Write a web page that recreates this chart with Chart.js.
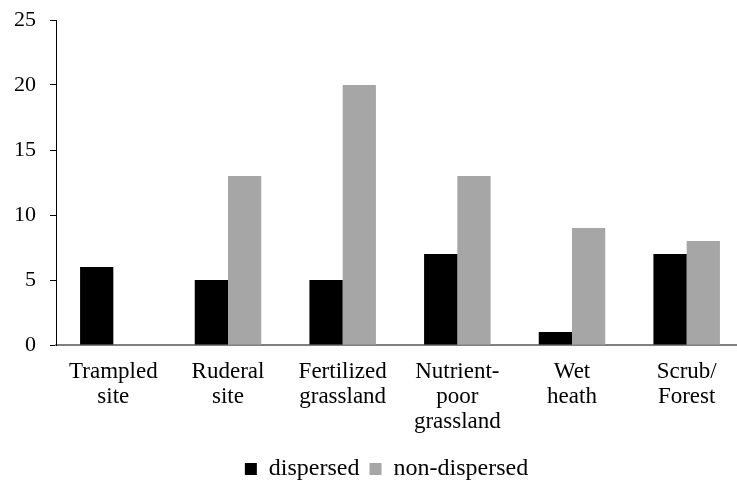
<!DOCTYPE html>
<html>
<head>
<meta charset="utf-8">
<script src="https://cdn.jsdelivr.net/npm/chart.js@4.4.1/dist/chart.umd.min.js"></script>
<style>
  html, body { margin: 0; padding: 0; background: #fff; overflow: hidden; }
  #wrap { width: 773px; height: 486px; position: relative; }
</style>
</head>
<body>
<div id="wrap"><canvas id="c"></canvas></div>
<script>
const categories = [
  ["Trampled", "site"],
  ["Ruderal", "site"],
  ["Fertilized", "grassland"],
  ["Nutrient-", "poor", "grassland"],
  ["Wet", "heath"],
  ["Scrub/", "Forest"]
];
const dispersed = [6, 5, 5, 7, 1, 7];
const nonDispersed = [0, 13, 20, 13, 9, 8];
const yTicks = [0, 5, 10, 15, 20, 25];

const FONT = "'Liberation Serif', 'Times New Roman', serif";
Chart.defaults.font.family = FONT;
Chart.defaults.color = '#000';

new Chart(document.getElementById('c'), {
  type: 'bar',
  data: {
    labels: categories,
    datasets: [
      { label: 'dispersed', data: dispersed, backgroundColor: '#000000', borderWidth: 0 },
      { label: 'non-dispersed', data: nonDispersed, backgroundColor: '#a6a6a6', borderWidth: 0 }
    ]
  },
  options: {
    responsive: true,
    maintainAspectRatio: false,
    animation: false,
    layout: { padding: { top: 20, right: 0, bottom: -5, left: 0 } },
    datasets: { bar: { categoryPercentage: 0.58, barPercentage: 1.0 } },
    plugins: {
      tooltip: { enabled: false },
      legend: {
        position: 'bottom',
        labels: {
          font: { size: 24, family: FONT },
          color: '#000',
          boxWidth: 12,
          boxHeight: 12,
          padding: 10
        }
      }
    },
    scales: {
      x: {
        grid: { display: false },
        border: { display: true, color: '#808080', width: 2 },
        ticks: { font: { size: 23, family: FONT, lineHeight: 1.087 }, color: '#000', padding: 6, maxRotation: 0, autoSkip: false },
        afterFit: (s) => { s.height = 102; }
      },
      y: {
        min: 0, max: 25,
        afterBuildTicks: (s) => { s.ticks = yTicks.map(v => ({ value: v })); },
        grid: { display: true, drawOnChartArea: false, drawTicks: true, tickLength: 6, color: '#000' },
        border: { display: true, color: '#000', width: 1 },
        ticks: { font: { size: 22, family: FONT, lineHeight: 0.4 }, color: '#000', padding: 14 },
        afterFit: (s) => { s.width = 56; }
      },
      yPad: {
        position: 'right',
        display: true,
        grid: { display: false },
        border: { display: false },
        ticks: { display: false },
        afterFit: (s) => { s.width = 29; }
      }
    }
  }
});
</script>
</body>
</html>
